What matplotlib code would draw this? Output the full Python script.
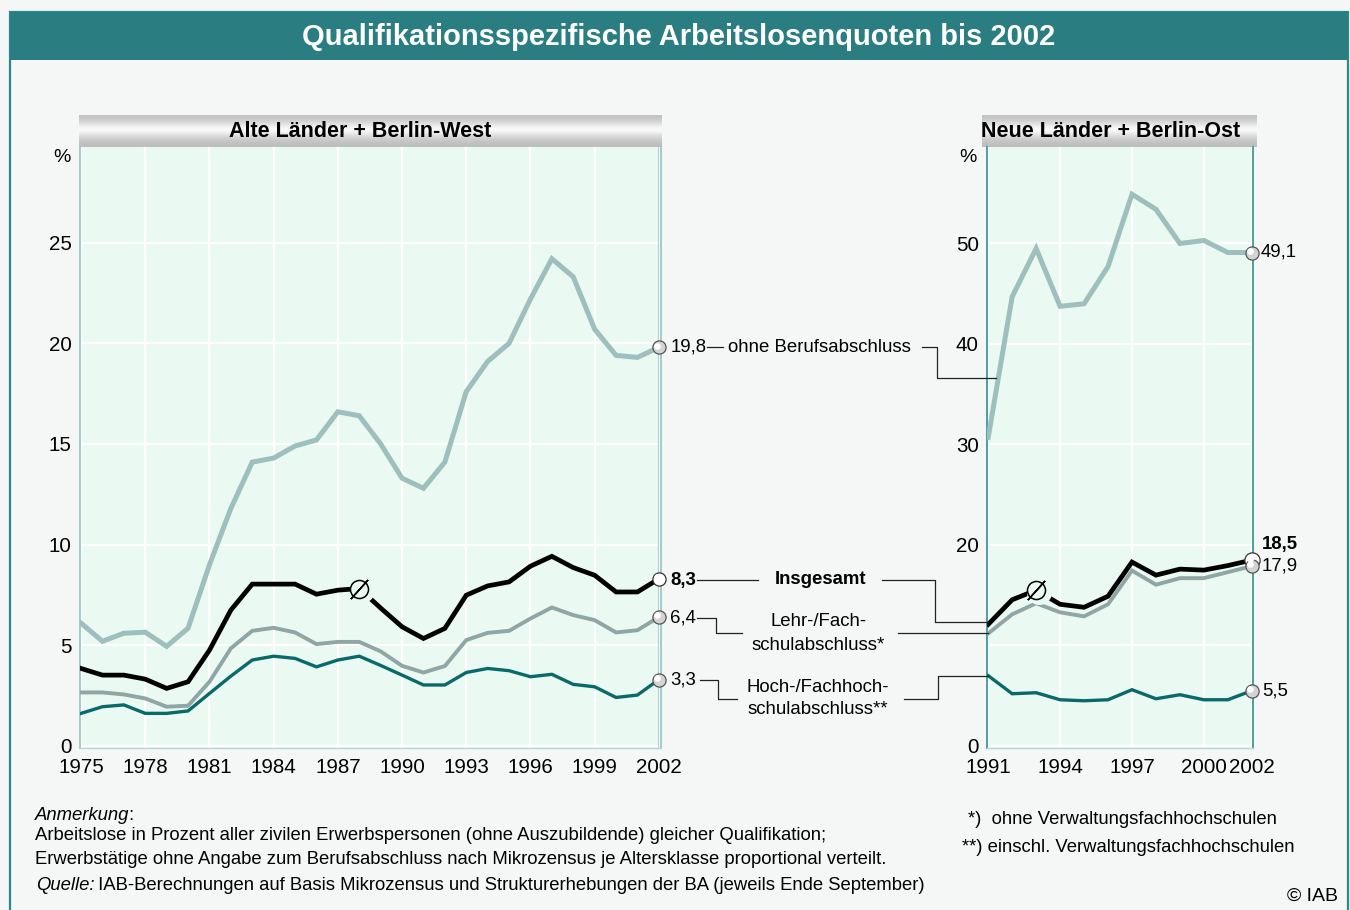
import numpy as np
import matplotlib
matplotlib.use('Agg')
import matplotlib.pyplot as plt
from matplotlib.patches import Rectangle
from matplotlib.lines import Line2D
import matplotlib.transforms as mtransforms

plt.rcParams['font.family'] = ['Liberation Sans', 'DejaVu Sans']

# ---------------- data ----------------
years_west = list(range(1975, 2003))
ohne_west = [6.1, 5.2, 5.6, 5.65, 4.95, 5.85, 9.0, 11.8, 14.1, 14.3, 14.9, 15.2, 16.6, 16.4,
             15.0, 13.3, 12.8, 14.1, 17.6, 19.1, 20.0, 22.2, 24.2, 23.3, 20.7, 19.4, 19.3, 19.8]
ins_west = [3.85, 3.52, 3.52, 3.32, 2.86, 3.19, 4.76, 6.75, 8.04, 8.04, 8.04, 7.54, 7.74, 7.82,
            6.85, 5.92, 5.34, 5.84, 7.49, 7.95, 8.15, 8.93, 9.42, 8.86, 8.48, 7.65, 7.65, 8.3]
lehr_west = [2.66, 2.66, 2.56, 2.36, 1.95, 2.0, 3.19, 4.85, 5.72, 5.87, 5.64, 5.06, 5.17, 5.17,
             4.7, 3.98, 3.65, 3.97, 5.26, 5.62, 5.72, 6.33, 6.88, 6.5, 6.25, 5.64, 5.75, 6.4]
hoch_west = [1.62, 1.95, 2.04, 1.62, 1.62, 1.74, 2.61, 3.47, 4.27, 4.46, 4.35, 3.93, 4.27, 4.46,
             4.0, 3.52, 3.03, 3.03, 3.65, 3.85, 3.74, 3.44, 3.56, 3.06, 2.94, 2.41, 2.53, 3.3]

years_east = list(range(1991, 2003))
ohne_east = [30.7, 44.7, 49.5, 43.75, 44.0, 47.7, 54.9, 53.4, 50.0, 50.3, 49.1, 49.1]
ins_east = [12.1, 14.55, 15.5, 14.1, 13.8, 14.9, 18.3, 17.0, 17.6, 17.5, 17.95, 18.5]
lehr_east = [11.2, 13.1, 14.2, 13.3, 12.9, 14.1, 17.45, 16.05, 16.7, 16.7, 17.3, 17.9]
hoch_east = [7.0, 5.2, 5.3, 4.6, 4.5, 4.6, 5.6, 4.7, 5.1, 4.6, 4.6, 5.5]

west_xticks = list(range(1975, 2003, 3))
east_xticks = [1991, 1994, 1997, 2000, 2002]
west_yticks = [0, 5, 10, 15, 20, 25]
east_yticks = [0, 10, 20, 30, 40, 50]
east_yticklabels = ['0', '', '20', '30', '40', '50']

title = 'Qualifikationsspezifische Arbeitslosenquoten bis 2002'
west_title = 'Alte Länder + Berlin-West'
east_title = 'Neue Länder + Berlin-Ost'
end_labels_west = ['19,8', '8,3', '6,4', '3,3']
end_labels_east = ['49,1', '18,5', '17,9', '5,5']

# ---------------- styles ----------------
C_OHNE = '#9dbfbd'
C_INS = '#000000'
C_LEHR = '#8fa6a5'
C_HOCH = '#0a6a6a'
BG_FIG = '#f5f7f7'
BG_AX = '#eafaf2'
TEAL = '#2a7d80'

W, H = 1350, 910
fig = plt.figure(figsize=(13.5, 9.1), dpi=100)
fig.patch.set_facecolor(BG_FIG)


def fx(x):
    return x / W


def fy(y):
    return 1 - y / H


# frame and title bar
fig.add_artist(Rectangle((fx(10), fy(930)), fx(1338), 918 / H, transform=fig.transFigure,
                         facecolor='none', edgecolor='#2a8a8a', lw=1.6))
fig.add_artist(Rectangle((fx(10), fy(60)), fx(1338), 48 / H, transform=fig.transFigure,
                         facecolor=TEAL, edgecolor='none'))
fig.text(fx(679), fy(37), title, color='white', fontsize=21, fontweight='bold',
         ha='center', va='center')

# header bars with gradient
grad = np.array([0.76, 0.80, 0.86, 0.93, 0.99, 0.94, 0.86, 0.80, 0.76, 0.74]).reshape(-1, 1)


def header(x0, x1, text, text_x):
    hax = fig.add_axes([fx(x0), fy(147), (x1 - x0) / W, 32 / H])
    hax.imshow(grad, cmap='gray', vmin=0, vmax=1, aspect='auto', interpolation='bicubic',
               extent=[0, 1, 0, 1])
    hax.set_axis_off()
    fig.text(fx(text_x), fy(131.5), text, ha='center', va='center',
             fontsize=15.5, fontweight='bold', color='black')


header(79, 662, west_title, 360)
header(982, 1257, east_title, 1111)

axL = fig.add_axes([fx(80), fy(748), (661 - 80) / W, (748 - 147) / H])
axR = fig.add_axes([fx(987), fy(748), (1253 - 987) / W, (748 - 147) / H])


def style_axes(ax, xlim, ylim, xticks, yticks, ylabels, spine_col):
    ax.set_facecolor(BG_AX)
    ax.set_xlim(*xlim)
    ax.set_ylim(*ylim)
    ax.set_xticks(xticks)
    ax.set_yticks(yticks)
    ax.set_yticklabels(ylabels)
    ax.tick_params(length=0, labelsize=14.8, pad=6)
    ax.tick_params(axis='x', pad=7.5)
    ax.grid(True, color='white', lw=1.6)
    ax.set_axisbelow(True)
    ax.spines['top'].set_visible(False)
    for s in ['left', 'right']:
        ax.spines[s].set_color(spine_col)
        ax.spines[s].set_linewidth(1.3)
    ax.spines['bottom'].set_color('#b8d6d6')
    ax.spines['bottom'].set_linewidth(1.0)


style_axes(axL, (1974.95, 2002.1), (-0.1, 29.75), west_xticks, west_yticks,
           [str(v) for v in west_yticks], '#9cc6c6')
style_axes(axR, (1990.95, 2002.05), (-0.2, 59.6), east_xticks, east_yticks,
           east_yticklabels, '#3a9a9a')
# inner double line on left panel's right edge
axL.axvline(2002.0 - 0.02, color='#b0d4d4', lw=0.9, zorder=2)

fig.text(fx(62), fy(157), '%', fontsize=14, ha='center', va='center')
fig.text(fx(968), fy(157), '%', fontsize=14, ha='center', va='center')


def draw_series(ax, xs, ohne, ins, lehr, hoch):
    ax.plot(xs, ohne, color=C_OHNE, lw=3.6, solid_joinstyle='miter', zorder=3)
    ax.plot(xs, hoch, color=C_HOCH, lw=2.4, solid_joinstyle='miter', zorder=4)
    ax.plot(xs, lehr, color=C_LEHR, lw=2.8, solid_joinstyle='miter', zorder=5)
    ax.plot(xs, ins, color=C_INS, lw=3.4, solid_joinstyle='miter', zorder=6)


draw_series(axL, years_west, ohne_west, ins_west, lehr_west, hoch_west)
draw_series(axR, years_east, ohne_east, ins_east, lehr_east, hoch_east)


def diameter_sign(ax, x, y):
    tr = mtransforms.offset_copy(ax.transData, fig=fig, x=2.0, y=-1.0, units='points')
    ax.plot([x], [y], marker='o', ms=17, mfc=BG_AX, mec=BG_AX, zorder=7, transform=tr)
    ax.plot([x], [y], marker='o', ms=13, mfc=BG_AX, mec='black', mew=1.1, zorder=8)
    ax.plot([x], [y], marker=(2, 2, -42), ms=18.5, mec='black', mew=1.1, zorder=8)


diameter_sign(axL, 1988, ins_west[years_west.index(1988)])
diameter_sign(axR, 1993, ins_east[years_east.index(1993)])


def sphere(ax, x, y, ms=9.5, face='#d4d4d4', edge='#555555'):
    ax.plot([x], [y], marker='o', ms=ms, mfc=face, mec=edge, mew=0.9, zorder=10, clip_on=False)
    tr = mtransforms.offset_copy(ax.transData, fig=fig, x=-1.2, y=1.2, units='points')
    ax.plot([x], [y], marker='o', ms=ms * 0.5, mfc='white', mec='none', zorder=11,
            clip_on=False, transform=tr)


for series in (ohne_west, lehr_west, hoch_west):
    sphere(axL, years_west[-1], series[-1])
sphere(axL, years_west[-1], ins_west[-1], face='white', edge='#333333')
sphere(axR, years_east[-1], ohne_east[-1])
sphere(axR, years_east[-1], ins_east[-1], ms=11, face='white', edge='#333333')
sphere(axR, years_east[-1], lehr_east[-1])
sphere(axR, years_east[-1], hoch_east[-1])

# end labels
FS = 13.4
fig.text(fx(671), fy(347), end_labels_west[0], fontsize=FS, va='center')
fig.text(fx(670), fy(580), end_labels_west[1], fontsize=FS, va='center', fontweight='bold')
fig.text(fx(670), fy(618), end_labels_west[2], fontsize=FS, va='center')
fig.text(fx(670), fy(680), end_labels_west[3], fontsize=FS, va='center')
fig.text(fx(1261), fy(252), end_labels_east[0], fontsize=FS, va='center')
fig.text(fx(1262), fy(545), end_labels_east[1], fontsize=FS, va='center', fontweight='bold')
fig.text(fx(1262), fy(566), end_labels_east[2], fontsize=FS, va='center')
fig.text(fx(1262), fy(691), end_labels_east[3], fontsize=FS, va='center')

# category labels
fig.text(fx(819), fy(347), 'ohne Berufsabschluss', fontsize=FS, ha='center', va='center')
fig.text(fx(821), fy(580), 'Insgesamt', fontsize=FS, ha='center', va='center', fontweight='bold')
fig.text(fx(819), fy(622), 'Lehr-/Fach-', fontsize=FS, ha='center', va='center')
fig.text(fx(818), fy(645), 'schulabschluss*', fontsize=FS, ha='center', va='center')
fig.text(fx(818), fy(687), 'Hoch-/Fachhoch-', fontsize=FS, ha='center', va='center')
fig.text(fx(818), fy(710), 'schulabschluss**', fontsize=FS, ha='center', va='center')


def conn(pts):
    xs = [fx(p[0]) for p in pts]
    ys = [fy(p[1]) for p in pts]
    fig.add_artist(Line2D(xs, ys, transform=fig.transFigure, color='#222222', lw=0.9))


conn([(707, 347), (723, 347)])
conn([(922, 347), (937, 347), (937, 377.5), (996, 377.5)])
conn([(697, 579.5), (758, 579.5)])
conn([(882, 579.5), (935, 579.5), (935, 621.7), (988, 621.7)])
conn([(697, 617.7), (716, 617.7), (716, 633.3), (742, 633.3)])
conn([(898, 633.3), (988, 633.3)])
conn([(700, 680), (718, 680), (718, 699.3), (737, 699.3)])
conn([(904, 699.3), (938, 699.3), (938, 675.7), (988, 675.7)])

# footer
FF = 13.3
renderer = fig.canvas.get_renderer()


def mixed(x, y, parts):
    cx = fx(x)
    for txt, style in parts:
        t = fig.text(cx, fy(y), txt, fontsize=FF, style=style, va='center', ha='left')
        bb = t.get_window_extent(renderer=renderer)
        cx += (bb.width - 1.5) / W


mixed(35, 816, [('Anmerkung', 'italic'), (':', 'normal')])
fig.text(fx(35), fy(836), 'Arbeitslose in Prozent aller zivilen Erwerbspersonen (ohne Auszubildende) '
         'gleicher Qualifikation;', fontsize=FF, va='center')
fig.text(fx(35), fy(859), 'Erwerbstätige ohne Angabe zum Berufsabschluss nach Mikrozensus je '
         'Altersklasse proportional verteilt.', fontsize=FF, va='center')
mixed(36, 885, [('Quelle:', 'italic'), (' IAB-Berechnungen auf Basis Mikrozensus und Strukturerhebungen '
                                       'der BA (jeweils Ende September)', 'normal')])
fig.text(fx(968), fy(820), '*)  ohne Verwaltungsfachhochschulen', fontsize=FF, va='center')
fig.text(fx(962), fy(847), '**) einschl. Verwaltungsfachhochschulen', fontsize=FF, va='center')
fig.text(fx(1338), fy(896), '© IAB', fontsize=14, va='center', ha='right')

fig.savefig('out.png', dpi=100, facecolor=fig.get_facecolor())
